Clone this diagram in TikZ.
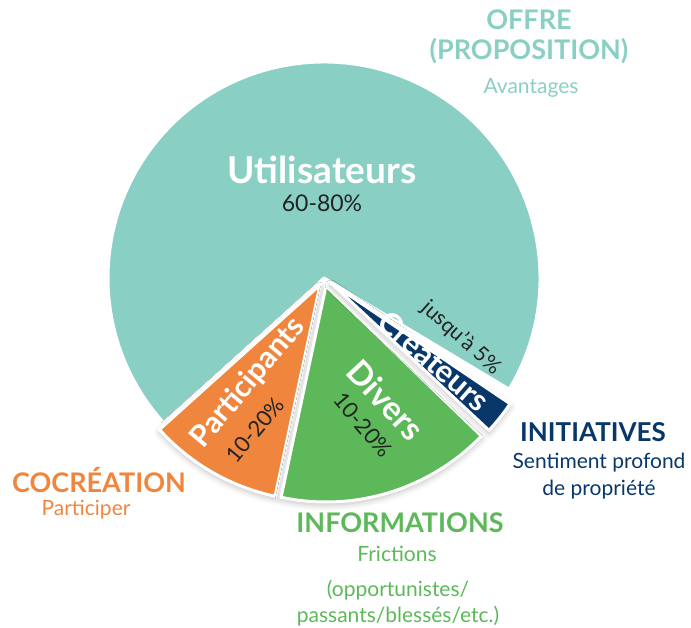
\documentclass[tikz,border=0pt]{standalone}
\usepackage{fontspec}
\setmainfont{Lato}
\usetikzlibrary{calc,shadows.blur}
\definecolor{tealpie}{RGB}{138,207,196}
\definecolor{orangepie}{RGB}{240,134,61}
\definecolor{greenpie}{RGB}{93,184,90}
\definecolor{navypie}{RGB}{8,56,106}
\definecolor{darktext}{RGB}{35,35,35}
\tikzset{
  slice/.style={draw=white, line width=3pt, line join=round},
  shade slice/.style={blur shadow={shadow xshift=0pt, shadow yshift=-3pt, shadow blur radius=6pt, shadow opacity=25}},
  title/.style={font=\fontsize{#1}{#1}\selectfont\bfseries, inner sep=0pt},
  sub/.style={font=\fontsize{#1}{#1}\selectfont, inner sep=0pt},
}
\begin{document}
\begin{tikzpicture}[x=1pt,y=1pt]
            \useasboundingbox (0,0) rectangle (691,627);
            % pie
            \coordinate (C) at (324,349);
            \fill[tealpie, slice] (C) -- ++(-31:216) arc[start angle=-31, end angle=222, radius=216] -- cycle;
            \fill[orangepie, slice, shade slice] ($(C)+(-4,-7)$) -- ++(222:216) arc[start angle=222, end angle=258, radius=216] -- cycle;
            \fill[greenpie, slice, shade slice] ($(C)+(2,-8)$) -- ++(258:216) arc[start angle=258, end angle=316, radius=216] -- cycle;
            \fill[navypie, slice, shade slice] ($(C)+(7,-5)$) -- ++(317:216) arc[start angle=317, end angle=326, radius=216] -- cycle;

            % labels on the slices
            \node[title=37, white] (util) at (322,457) {Utilisateurs};
            \node[sub=23, darktext] (utilpc) at (322,424) {60-80\%};
            \node[title=30, white, rotate=50] (part) at (248,244) {Participants};
            \node[sub=22, darktext, rotate=50] (partpc) at (255,197) {10-20\%};
            \node[title=33, white, rotate=-47] (div) at (386,227) {Divers};
            \node[sub=22, darktext, rotate=-50] (divpc) at (363,202) {10-20\%};
            \node[title=31, white, rotate=-41] (crea) at (434,266) {Créateurs};
            \node[sub=21, darktext, rotate=-42] (creapc) at (461,289) {jusqu’à 5\%};

            % labels round the pie
            \node[title=27, tealpie] (offre) at (529,607) {OFFRE};
            \node[title=27, tealpie] (prop) at (529,576) {(PROPOSITION)};
            \node[sub=21, tealpie] (avant) at (531,539) {Avantages};
            \node[title=27, orangepie] (cocr) at (99,147) {COCRÉATION};
            \node[sub=21, orangepie] (partic) at (86,117) {Participer};
            \node[title=27, greenpie] (info) at (400,104) {INFORMATIONS};
            \node[sub=21, greenpie] (fric) at (397,73) {Frictions};
            \node[sub=21, greenpie] (opp) at (398,37) {(opportunistes/};
            \node[sub=21, greenpie] (pass) at (398,11) {passants/blessés/etc.)};
            \node[title=26, navypie] (init) at (593,195) {INITIATIVES};
            \node[sub=21, navypie] (sent) at (599,164) {Sentiment profond};
            \node[sub=21, navypie] (propr) at (599,137) {de propriété};
        \end{tikzpicture}
\end{document}
